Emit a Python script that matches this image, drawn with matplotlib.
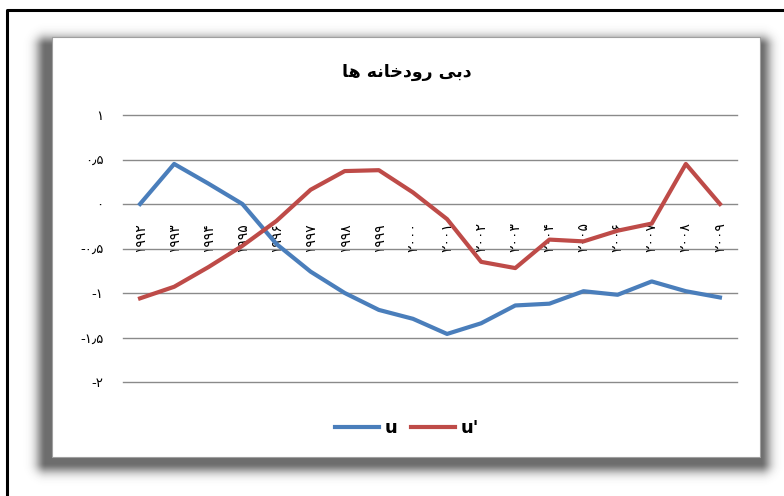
import matplotlib
matplotlib.use('Agg')
import matplotlib.pyplot as plt
import numpy as np
from matplotlib.patches import Rectangle

# years (Persian digits, as shown on the chart)
years = ['۱۹۹۲', '۱۹۹۳', '۱۹۹۴', '۱۹۹۵', '۱۹۹۶', '۱۹۹۷', '۱۹۹۸', '۱۹۹۹', '۲۰۰۰',
         '۲۰۰۱', '۲۰۰۲', '۲۰۰۳', '۲۰۰۴', '۲۰۰۵', '۲۰۰۶', '۲۰۰۷', '۲۰۰۸', '۲۰۰۹']
u = [0.0, 0.45, 0.23, 0.0, -0.45, -0.76, -1.0, -1.19, -1.29,
     -1.46, -1.34, -1.14, -1.12, -0.98, -1.02, -0.87, -0.98, -1.05]
u_prime = [-1.06, -0.93, -0.71, -0.47, -0.19, 0.16, 0.37, 0.38, 0.13,
           -0.17, -0.65, -0.72, -0.40, -0.42, -0.30, -0.22, 0.45, 0.0]
y_ticks = [1, 0.5, 0, -0.5, -1, -1.5, -2]
y_labels = ['۱', '۰٫۵', '۰', '-۰٫۵', '-۱', '-۱٫۵', '-۲']

# title "دبی رودخانه ها" written in presentation forms, visual order (no shaping in matplotlib)
title = '\uFE8E\uFEEB \uFEEA\uFEE7\uFE8E\uFEA7\uFEA9\uFEED\uFEAD \uFBFD\uFE91\uFEA9'

plt.rcParams['font.family'] = ['DejaVu Sans']

fig = plt.figure(figsize=(7.84, 4.96), dpi=100)
W, H = 784, 496

# background layer in pixel coordinates: frame, soft shadow, white chart box
bg = fig.add_axes([0, 0, 1, 1])
bg.set_zorder(-10)
bg.set_xlim(0, W)
bg.set_ylim(H, 0)
bg.axis('off')

yy, xx = np.mgrid[0:H, 0:W] + 0.5
sx0, sy0, sx1, sy1 = 46, 46, 761, 463
dx = np.maximum(np.maximum(sx0 - xx, xx - sx1), 0)
dy = np.maximum(np.maximum(sy0 - yy, yy - sy1), 0)
d = np.hypot(dx, dy)
alpha = 0.72 * np.exp(-(d / 10.0) ** 2)
shadow = np.zeros((H, W, 4))
shadow[..., :3] = 0.2
shadow[..., 3] = alpha
bg.imshow(shadow, extent=(0, W, H, 0), interpolation='bilinear', aspect='auto')

bg.add_patch(Rectangle((52, 37), 708, 420, facecolor='white', edgecolor='#a0a0a0', lw=0.8))
bg.plot([7, 7, W + 5], [H + 5, 10, 10], color='black', lw=2.2)

ax = fig.add_axes([123 / W, 1 - 382 / H, 614 / W, 267 / H])
ax.set_facecolor('none')
x = list(range(len(years)))
ax.plot(x, u, color='#4a7ebb', lw=3, label='u', solid_joinstyle='round')
ax.plot(x, u_prime, color='#be4b48', lw=3, label="u'", solid_joinstyle='round')

ax.set_xlim(-0.5, len(years) - 0.5)
ax.set_ylim(-2, 1)
ax.set_yticks(y_ticks)
ax.set_yticklabels(y_labels, fontsize=9.5)
ax.yaxis.grid(True, color='#8a8a8a', lw=1, clip_on=False)
ax.set_axisbelow(True)
for s in ['top', 'right', 'left']:
    ax.spines[s].set_visible(False)
ax.spines['bottom'].set_position(('data', 0))
ax.spines['bottom'].set_visible(False)
ax.set_xticks(x)
ax.set_xticklabels(years, rotation=90, fontsize=10, va='top')
ax.tick_params(axis='x', length=0, pad=13)
ax.tick_params(axis='y', length=0, pad=14)

fig.text(407 / W, 1 - 72 / H, title, ha='center', va='center', fontsize=12.5, fontweight='bold')

fig.legend(loc='center', bbox_to_anchor=(407 / W, 1 - 428 / H), ncol=2, frameon=False,
           handlelength=2.4, handletextpad=0.3, columnspacing=0.8,
           prop={'weight': 'bold', 'size': 13})

fig.savefig('out.png', dpi=100)
